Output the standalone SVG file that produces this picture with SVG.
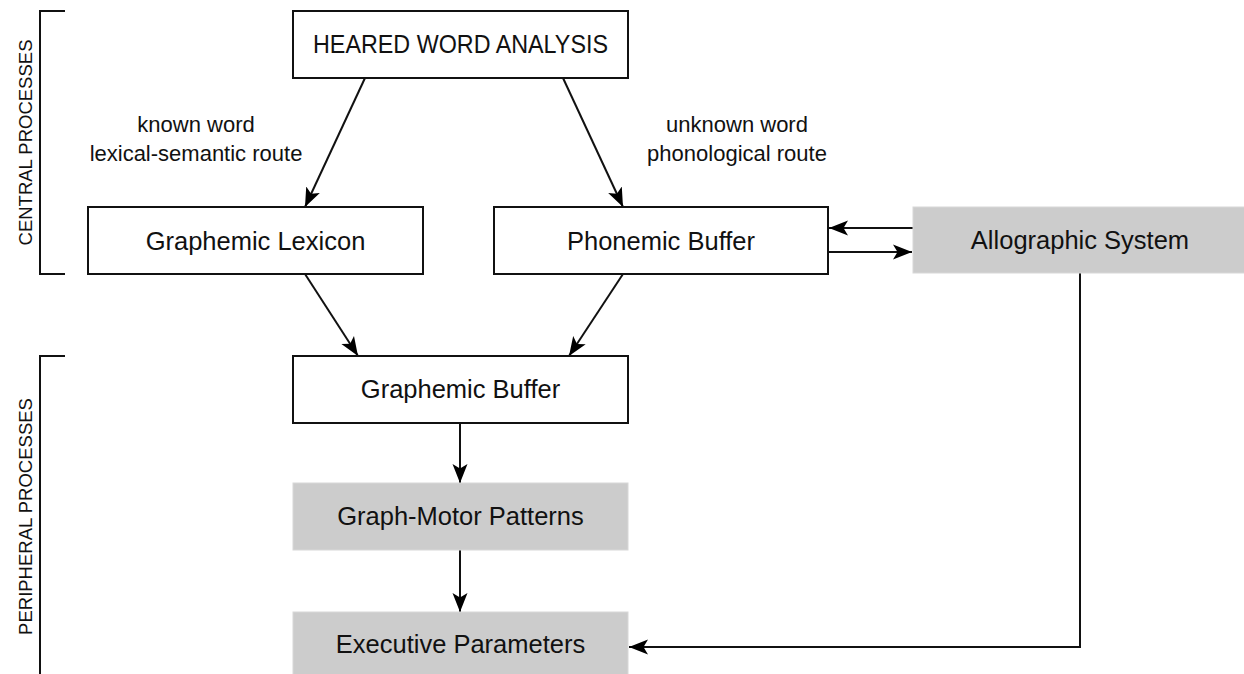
<svg xmlns="http://www.w3.org/2000/svg" width="1244" height="674" viewBox="0 0 1244 674">
<style>
.box{fill:#ffffff;stroke:#111;stroke-width:2}
.gbox{fill:#cccccc;stroke:#d8d8d8;stroke-width:1}
.lbl{font-family:"Liberation Sans",Arial,sans-serif;font-size:25.5px;fill:#111;text-anchor:middle}
.route{font-family:"Liberation Sans",Arial,sans-serif;font-size:22px;fill:#111;text-anchor:middle}
.side{font-family:"Liberation Sans",Arial,sans-serif;font-size:18.5px;fill:#111;text-anchor:middle}
.con{fill:none;stroke:#111;stroke-width:2}
.brk{fill:none;stroke:#111;stroke-width:2}
</style>
<defs>
<marker id="ah" markerUnits="userSpaceOnUse" markerWidth="20" markerHeight="18" viewBox="0 0 20 18" refX="19" refY="9" orient="auto">
<path d="M0,1.5 L19,9 L0,16.5 L4.5,9 z" fill="#000"/>
</marker>
</defs>
<rect width="1244" height="674" fill="#ffffff"/>

<g id="brackets">
<path class="brk" d="M65,11 H40 V274 H65"/>
<path class="brk" d="M65,356 H40 V680"/>
<text class="side" transform="translate(32,142.5) rotate(-90)">CENTRAL PROCESSES</text>
<text class="side" transform="translate(32,516.5) rotate(-90)">PERIPHERAL PROCESSES</text>
</g>

<g id="connectors">
<line class="con" x1="365" y1="78" x2="305" y2="207" marker-end="url(#ah)"/>
<line class="con" x1="563" y1="78" x2="623" y2="207" marker-end="url(#ah)"/>
<line class="con" x1="305" y1="274" x2="358" y2="356" marker-end="url(#ah)"/>
<line class="con" x1="623" y1="274" x2="569" y2="356" marker-end="url(#ah)"/>
<line class="con" x1="460" y1="423" x2="460" y2="483" marker-end="url(#ah)"/>
<line class="con" x1="460" y1="550" x2="460" y2="612" marker-end="url(#ah)"/>
<line class="con" x1="913" y1="228" x2="829" y2="228" marker-end="url(#ah)"/>
<line class="con" x1="828" y1="252" x2="912" y2="252" marker-end="url(#ah)"/>
<polyline class="con" points="1080,273 1080,647 629,647" marker-end="url(#ah)"/>
</g>

<g id="route-labels">
<text class="route" x="196" y="132">known word</text>
<text class="route" x="196" y="161">lexical-semantic route</text>
<text class="route" x="737" y="132">unknown word</text>
<text class="route" x="737" y="161">phonological route</text>
</g>

<g id="heared">
<rect class="box" x="293" y="11" width="335" height="67"/>
<text class="lbl" x="460.5" y="53" textLength="295" lengthAdjust="spacingAndGlyphs">HEARED WORD ANALYSIS</text>
</g>
<g id="graphemic-lexicon">
<rect class="box" x="88" y="207" width="335" height="67"/>
<text class="lbl" x="255.5" y="250">Graphemic Lexicon</text>
</g>
<g id="phonemic-buffer">
<rect class="box" x="494" y="207" width="334" height="67"/>
<text class="lbl" x="661" y="250">Phonemic Buffer</text>
</g>
<g id="allographic-system">
<rect class="gbox" x="913" y="207" width="340" height="66"/>
<text class="lbl" x="1080" y="249">Allographic System</text>
</g>
<g id="graphemic-buffer">
<rect class="box" x="293" y="356" width="335" height="67"/>
<text class="lbl" x="460.5" y="398">Graphemic Buffer</text>
</g>
<g id="graph-motor">
<rect class="gbox" x="293" y="483" width="335" height="67"/>
<text class="lbl" x="460.5" y="525">Graph-Motor Patterns</text>
</g>
<g id="executive">
<rect class="gbox" x="293" y="612" width="335" height="70"/>
<text class="lbl" x="460.5" y="653">Executive Parameters</text>
</g>
</svg>
